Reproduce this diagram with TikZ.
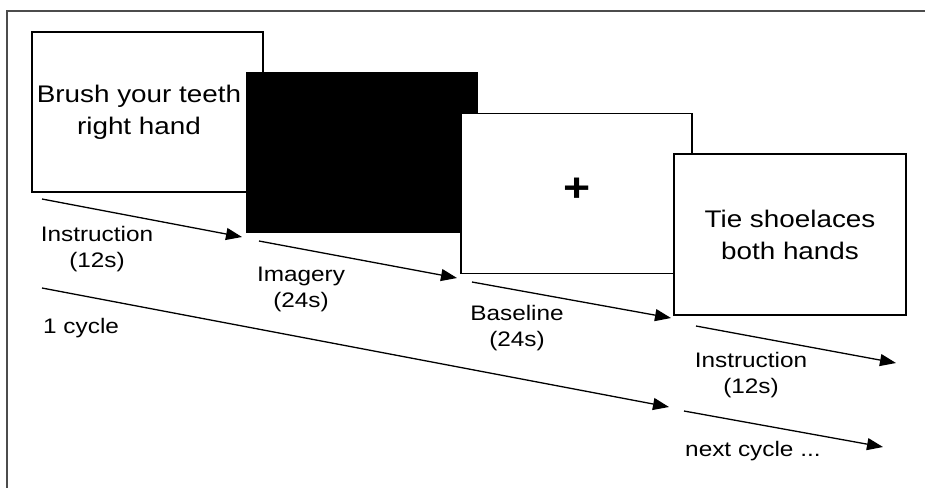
\documentclass[tikz,border=0pt]{standalone}
\usepackage{fontspec}
\setmainfont{Liberation Sans}[FakeStretch=1.16]
\usetikzlibrary{arrows.meta}

\begin{document}
\begin{tikzpicture}[x=1pt,y=-1pt,
    screen/.style={draw, line width=1.3pt, fill=white, minimum width=231pt, minimum height=160pt, inner sep=0pt},
    cue/.style={font=\fontsize{24}{32}\selectfont, align=center, inner sep=0pt},
    tag/.style={font=\fontsize{21}{26}\selectfont, align=center, inner sep=0pt},
    timeline/.style={line width=1.3pt, -{Triangle[length=16pt,width=12pt]}}]
    \useasboundingbox (0,0) rectangle (925,488);
    \draw[line width=2pt, black!70] (925,11) -- (7,11) -- (7,488);
    \node[screen] (instr) at (147.5,112) {};
    \node[cue] (instrtxt) at (139,112) {Brush your teeth\\right hand};
    \node[screen, fill=black] (imag) at (362,152.5) {};
    \node[screen] (base) at (576.5,193.5) {};
    \node[font=\fontsize{40}{40}\selectfont\bfseries, inner sep=0pt] (cross) at (577,190) {+};
    \node[screen, cue, minimum width=232pt, minimum height=161pt] (next) at (790,234.5) {Tie shoelaces\\both hands};
    \coordinate (a1) at (42,199);  \coordinate (b1) at (242,237);
    \coordinate (a2) at (259,241); \coordinate (b2) at (457,278);
    \coordinate (a3) at (472,282); \coordinate (b3) at (671,318);
    \coordinate (a4) at (696,326); \coordinate (b4) at (896,363);
    \coordinate (a5) at (42,288);  \coordinate (b5) at (669,407);
    \coordinate (a6) at (684,411); \coordinate (b6) at (883,447);
    \draw[timeline] (a1) -- (b1);
    \draw[timeline] (a2) -- (b2);
    \draw[timeline] (a3) -- (b3);
    \draw[timeline] (a4) -- (b4);
    \draw[timeline] (a5) -- (b5);
    \draw[timeline] (a6) -- (b6);
    \node[tag] (t1) at (97,249) {Instruction\\(12s)};
    \node[tag] (t2) at (301,289) {Imagery\\(24s)};
    \node[tag] (t3) at (517,328) {Baseline\\(24s)};
    \node[tag] (t4) at (751,375) {Instruction\\(12s)};
    \node[tag, anchor=base west] (cyc) at (43,333) {1 cycle};
    \node[tag, anchor=base west] (nxt) at (685,456) {next cycle ...};
\end{tikzpicture}
\end{document}
